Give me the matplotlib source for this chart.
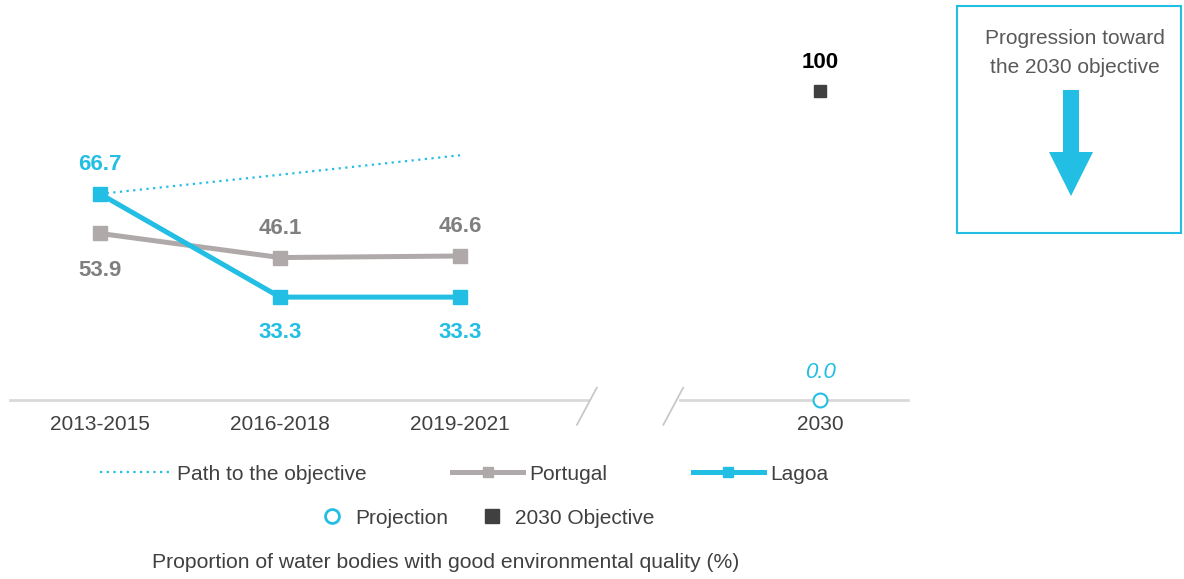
import matplotlib.pyplot as plt
from matplotlib.lines import Line2D
from matplotlib.patches import Rectangle, FancyArrow

plt.rcParams['font.family'] = ['Liberation Sans', 'DejaVu Sans']

# data
periods = ['2013-2015', '2016-2018', '2019-2021']
target_label = '2030'
lagoa = [66.7, 33.3, 33.3]
portugal = [53.9, 46.1, 46.6]
path = [66.7, 72.9, 79.2]
objective = 100
projection = 0.0

CYAN = '#23BEE3'
GRAY = '#AFAAA9'
LGRAY = '#D9D9D9'
DARK = '#404040'
TXT = '#595959'

x = [0, 1, 2]
x_target = 4

fig = plt.figure(figsize=(11.84, 5.79), dpi=100)
ax = fig.add_axes([10/1184, 179/579, 900/1184, 309/579])
ax.set_xlim(-0.5, 4.5)
ax.set_ylim(0, 100)
ax.axis('off')

# baseline with break
ax.plot([-0.5, 2.71], [0, 0], color=LGRAY, lw=2, clip_on=False, zorder=1)
ax.plot([3.22, 4.49], [0, 0], color=LGRAY, lw=2, clip_on=False, zorder=1)
ax.plot([2.65, 2.76], [-8, 4], color='#C8C8C8', lw=1.3, clip_on=False)
ax.plot([3.13, 3.24], [-8, 4], color='#C8C8C8', lw=1.3, clip_on=False)

ax.plot(x, path, ls=(0, (1, 2)), color=CYAN, lw=1.6, zorder=2)
ax.plot(x, portugal, color=GRAY, lw=3.6, marker='s', ms=10, zorder=3)
ax.plot(x, lagoa, color=CYAN, lw=3.6, marker='s', ms=10, zorder=4)
ax.plot([x_target], [objective], marker='s', color=DARK, ms=8.5, ls='none', clip_on=False)
ax.plot([x_target], [projection], marker='o', mfc='white', mec=CYAN, mew=1.5,
        ms=10, ls='none', clip_on=False, zorder=5)

# value labels
fs = 15
vfs = 16
for i, v in enumerate(lagoa):
    off = 21 if i == 0 else -25.5
    ax.annotate(f'{v:.1f}', (x[i], v), xytext=(0, off), textcoords='offset points',
                ha='center', va='center', color=CYAN, fontsize=vfs, fontweight='bold')
for i, v in enumerate(portugal):
    off = -26.5 if i == 0 else 21
    ax.annotate(f'{v:.1f}', (x[i], v), xytext=(0, off), textcoords='offset points',
                ha='center', va='center', color='#7F7F7F', fontsize=vfs, fontweight='bold')
ax.annotate(f'{objective}', (x_target, objective), xytext=(0, 20.5), textcoords='offset points',
            ha='center', va='center', color='#000000', fontsize=vfs, fontweight='bold')
ax.annotate(f'{projection:.1f}', (x_target, projection), xytext=(0, 20), textcoords='offset points',
            ha='center', va='center', color=CYAN, fontsize=vfs, fontstyle='italic')

# category labels
for xi, lab in zip(x + [x_target], periods + [target_label]):
    ax.annotate(lab, (xi, 0), xytext=(0, -18), textcoords='offset points',
                ha='center', va='center', color=DARK, fontsize=fs)

# legends
h1 = [Line2D([], [], color=CYAN, ls=(0, (1, 2)), lw=1.6),
      Line2D([], [], color=GRAY, lw=3.6, marker='s', ms=7),
      Line2D([], [], color=CYAN, lw=3.6, marker='s', ms=7)]
fig.legend(h1, ['Path to the objective', 'Portugal', 'Lagoa'], ncol=3,
           loc='center', bbox_to_anchor=(464/1184, 1 - 474/579), frameon=False,
           fontsize=fs, handlelength=3.4, handletextpad=0.3, columnspacing=4.1,
           labelcolor=DARK)
h2 = [Line2D([], [], ls='none', marker='o', mfc='white', mec=CYAN, mew=2, ms=10),
      Line2D([], [], ls='none', marker='s', color=DARK, ms=10)]
fig.legend(h2, ['Projection', '2030 Objective'], ncol=2, loc='center',
           bbox_to_anchor=(488/1184, 1 - 518/579), frameon=False, fontsize=fs,
           handlelength=1, handletextpad=0.6, columnspacing=1.6, labelcolor=DARK)

fig.text(446/1184, 1 - 563/579, 'Proportion of water bodies with good environmental quality (%)',
         ha='center', va='center', fontsize=15.2, color=DARK)

# progression box
fig.patches.append(Rectangle((957/1184, 1 - 233/579), 224/1184, 227/579,
                             transform=fig.transFigure, fill=False, ec=CYAN, lw=1.5))
fig.text(1075/1184, 1 - 53/579, 'Progression toward\nthe 2030 objective', ha='center',
         va='center', fontsize=15, color=TXT, linespacing=1.65)
fig.patches.append(FancyArrow(1071/1184, 1 - 90/579, 0, -106/579, width=16/1184,
                              head_width=44/1184, head_length=44/579,
                              length_includes_head=True, transform=fig.transFigure,
                              color=CYAN, lw=0))

fig.savefig('out.png', dpi=100)
